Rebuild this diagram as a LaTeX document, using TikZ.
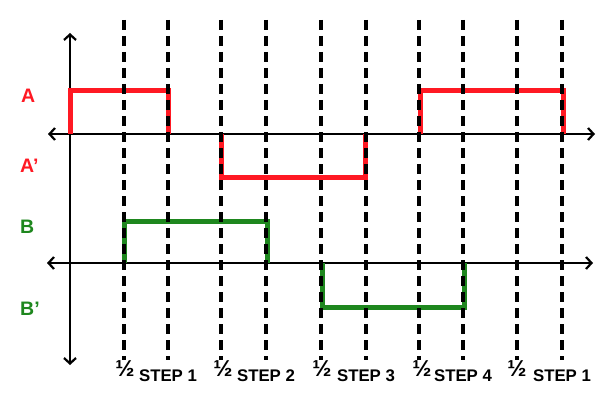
\documentclass[tikz,border=0pt]{standalone}
\usepackage{fontspec}
\setmainfont{Liberation Sans}
\usetikzlibrary{arrows.meta}
\definecolor{sigred}{RGB}{255,25,35}
\definecolor{siggreen}{RGB}{30,135,30}
\begin{document}
\begin{tikzpicture}[x=1pt,y=-1pt,
  axis/.style={line width=2.2pt, {Straight Barb[length=5.5pt,width=12pt]}-{Straight Barb[length=5.5pt,width=12pt]}},
  gridline/.style={line width=3.3pt, dash pattern=on 10pt off 6pt},
  sig/.style={line width=5pt, line join=miter},
  lbl/.style={font=\bfseries\fontsize{19.5}{19.5}\selectfont, inner sep=0pt, anchor=west},
  steplbl/.style={font=\bfseries\fontsize{16.8}{16.8}\selectfont, inner sep=0pt, anchor=base, text=black},
  halflbl/.style={font=\bfseries\fontsize{23}{23}\selectfont, inner sep=0pt, anchor=base, text=black}]
\useasboundingbox (0,0) rectangle (615,401);
% axes
\coordinate (vt) at (70,33);
\coordinate (vb) at (70,365);
\coordinate (h1l) at (48,134);
\coordinate (h1r) at (595,134);
\coordinate (h2l) at (47,263);
\coordinate (h2r) at (593,263);
\draw[axis] (vt) -- (vb);
\draw[axis] (h1l) -- (h1r);
\draw[axis] (h2l) -- (h2r);
% signals A / A'
\draw[sig, sigred] (70,134) -- (70,91) -- (168,91) -- (168,134);
\draw[sig, sigred] (221,134) -- (221,177) -- (365,177) -- (365,134);
\draw[sig, sigred] (420,134) -- (420,91) -- (563,91) -- (563,134);
% signals B / B'
\draw[sig, siggreen] (124,263) -- (124,221) -- (267,221) -- (267,263);
\draw[sig, siggreen] (322,263) -- (322,307) -- (464,307) -- (464,263);
% dashed step lines
\foreach \x in {124,168,221,266,321,366,419,463,517,562}
  \draw[gridline] (\x,20) -- (\x,360);
% labels
\node[lbl, text=sigred] (la) at (21,96) {A};
\node[lbl, text=sigred] (lap) at (20,166) {A’};
\node[lbl, text=siggreen] (lb) at (20,227) {B};
\node[lbl, text=siggreen] (lbp) at (20,309) {B’};
% bottom labels
\foreach \h/\s/\n in {125/168/1, 223/266/2, 322/366/3, 422/463/4, 517/562/1} {
  \node[halflbl] at (\h,376.5) {½};
  \node[steplbl] at (\s,381) {STEP \n};
}
\end{tikzpicture}
\end{document}
